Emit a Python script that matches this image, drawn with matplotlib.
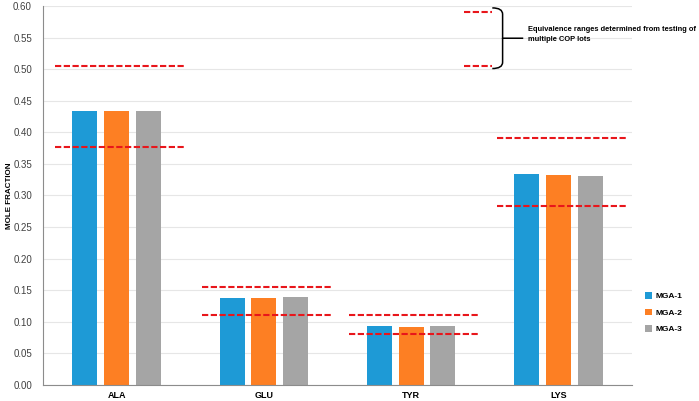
import numpy as np
import matplotlib.pyplot as plt
from matplotlib.path import Path
from matplotlib.patches import PathPatch

plt.rcParams['font.family'] = ['Liberation Sans', 'DejaVu Sans']

categories = ['ALA', 'GLU', 'TYR', 'LYS']
mga1 = [0.433, 0.138, 0.093, 0.334]
mga2 = [0.433, 0.138, 0.092, 0.333]
mga3 = [0.433, 0.140, 0.093, 0.331]
range_low = [0.377, 0.110, 0.080, 0.284]
range_high = [0.505, 0.155, 0.111, 0.391]
# sample range lines next to the note
note_low = 0.505
note_high = 0.590
note_text = 'Equivalence ranges determined from testing of\nmultiple COP lots'

colors = ['#1E9AD6', '#FD7F23', '#A5A5A5']
red = '#E8161B'

fig = plt.figure(figsize=(6.99, 4.01), dpi=100)
ax = fig.add_axes([0.0615, 0.04, 0.843, 0.945])

x = np.arange(len(categories))
w = 0.17
step = 0.215
for i, (vals, lab) in enumerate(zip([mga1, mga2, mga3], ['MGA-1', 'MGA-2', 'MGA-3'])):
    ax.bar(x + (i - 1) * step, vals, w, color=colors[i], label=lab, zorder=2)

for xi, lo, hi in zip(x, range_low, range_high):
    for v in (lo, hi):
        ax.plot([xi - 0.42, xi + 0.46], [v, v], color=red, lw=1.5,
                dashes=(3, 1.2), zorder=3)

# note with curly brace
nx0, nx1 = 2.36, 2.55
for v in (note_low, note_high):
    ax.plot([nx0, nx1], [v, v], color=red, lw=1.5, dashes=(3, 1.2), zorder=3)

bx = 2.55
top = note_high + 0.007
bot = note_low - 0.004
mid = (top + bot) / 2
dx = 0.07
tip = 0.21
verts = [(bx, top), (bx + dx, top), (bx + dx, top - 0.01),
         (bx + dx, mid + 0.005), (bx + dx, mid), (bx + dx, mid), (bx + tip, mid),
         (bx + dx, mid), (bx + dx, mid), (bx + dx, mid - 0.005),
         (bx + dx, bot + 0.01), (bx + dx, bot), (bx, bot)]
codes = [Path.MOVETO, Path.CURVE3, Path.CURVE3, Path.LINETO, Path.CURVE3, Path.CURVE3,
         Path.LINETO, Path.MOVETO, Path.CURVE3, Path.CURVE3, Path.LINETO,
         Path.CURVE3, Path.CURVE3]
ax.add_patch(PathPatch(Path(verts, codes), fill=False, lw=1.1, color='black', zorder=4))
ax.text(2.79, mid + 0.006, note_text, fontsize=5.4, fontweight='bold',
        va='center', ha='left', linespacing=1.45)

ax.set_xlim(-0.5, len(categories) - 0.5)
ax.set_ylim(0, 0.6)
ax.set_yticks(np.arange(0, 0.601, 0.05))
ax.set_yticklabels(['%.2f' % t for t in np.arange(0, 0.601, 0.05)], fontsize=7, color='#404040')
ax.set_xticks(x)
ax.set_xticklabels(categories, fontsize=6.5, fontweight='bold')
ax.tick_params(axis='y', length=0, pad=8)
ax.tick_params(axis='x', length=0, pad=4)
ax.grid(axis='y', color='#E6E6E6', lw=0.8, zorder=0)
ax.set_axisbelow(True)
for s in ['top', 'right']:
    ax.spines[s].set_visible(False)
ax.spines['left'].set_color('#8C8C8C')
ax.spines['bottom'].set_color('#8C8C8C')
ax.set_ylabel('MOLE FRACTION', fontsize=5.8, fontweight='bold')
ax.yaxis.set_label_coords(-0.051, 0.5)

leg = ax.legend(loc='center left', bbox_to_anchor=(0.918, 0.22), bbox_transform=fig.transFigure,
                frameon=False, fontsize=6, handlelength=0.8, handleheight=0.8,
                handletextpad=0.5, labelspacing=1.0, borderaxespad=0)
for t in leg.get_texts():
    t.set_fontweight('bold')

fig.savefig('out.png', dpi=100)
